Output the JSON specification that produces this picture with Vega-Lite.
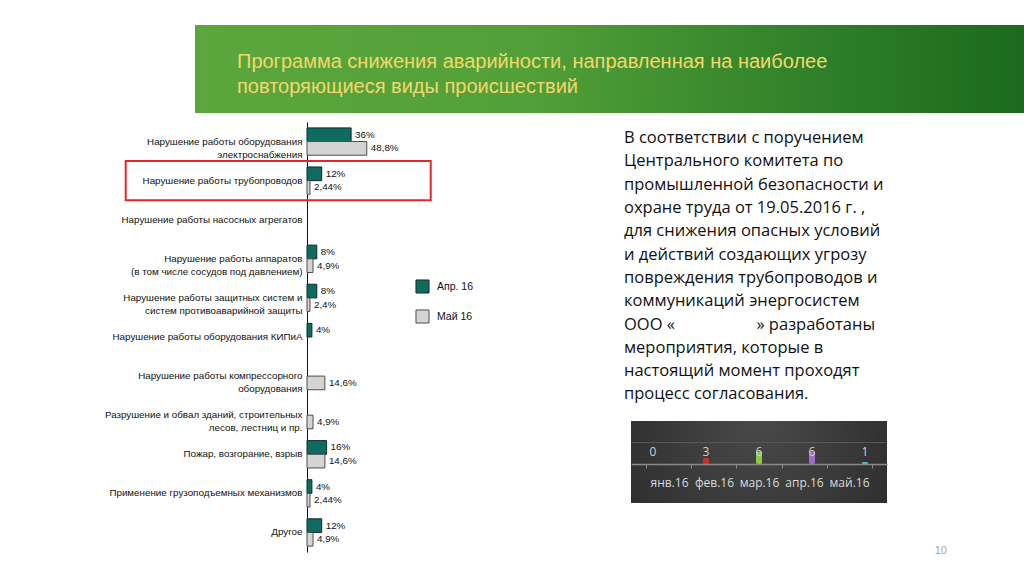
{
  "$schema": "https://vega.github.io/schema/vega-lite/v6.json",
  "background": "white",
  "padding": {"left": 104, "top": 25, "right": 0, "bottom": 0},
  "config": {"view": {"stroke": null}, "font": "Liberation Sans", "title": {"fontWeight": "normal"}},
  "title": {"text": "10", "orient": "bottom", "anchor": "end", "fontSize": 11, "color": "#a6a6a6", "font": "Liberation Sans", "fontWeight": "normal", "dx": -77, "offset": -7},
  "spacing": 9,
  "resolve": {"scale": {"color": "independent", "stroke": "independent"}, "legend": {"color": "independent", "stroke": "independent"}},
  "vconcat": [
    {
      "width": 829,
      "height": 88,
      "title": {
        "text": ["Программа снижения аварийности, направленная на наиболее", "повторяющиеся виды происшествий"],
        "orient": "top", "anchor": "start", "frame": "group", "baseline": "top",
        "offset": -72, "dx": 42, "fontSize": 20, "lineHeight": 25,
        "color": "#f4d76c", "font": "Liberation Sans", "fontWeight": "normal"
      },
      "data": {"values": [{"band": "banner"}]},
      "mark": {
        "type": "rect",
        "color": {
          "gradient": "linear", "x1": 0, "y1": 0, "x2": 1, "y2": 0,
          "stops": [
            {"offset": 0, "color": "#5ba73d"},
            {"offset": 0.4, "color": "#52a039"},
            {"offset": 0.75, "color": "#2f8029"},
            {"offset": 1, "color": "#1b6a1e"}
          ]
        }
      },
      "encoding": {}
    },
    {
      "spacing": 150,
      "resolve": {"scale": {"color": "independent", "stroke": "independent"}, "legend": {"color": "independent", "stroke": "independent"}},
      "hconcat": [
        {
          "width": 234.5,
          "height": 430,
          "data": {
            "values": [
              {"cat": "Нарушение работы оборудования|электроснабжения", "series": "Апр. 16", "value": 36, "label": "36%"},
              {"cat": "Нарушение работы оборудования|электроснабжения", "series": "Май 16", "value": 48.8, "label": "48,8%"},
              {"cat": "Нарушение работы трубопроводов", "series": "Апр. 16", "value": 12, "label": "12%"},
              {"cat": "Нарушение работы трубопроводов", "series": "Май 16", "value": 2.44, "label": "2,44%"},
              {"cat": "Нарушение работы аппаратов|(в том числе сосудов под давлением)", "series": "Апр. 16", "value": 8, "label": "8%"},
              {"cat": "Нарушение работы аппаратов|(в том числе сосудов под давлением)", "series": "Май 16", "value": 4.9, "label": "4,9%"},
              {"cat": "Нарушение работы защитных систем и|систем противоаварийной защиты", "series": "Апр. 16", "value": 8, "label": "8%"},
              {"cat": "Нарушение работы защитных систем и|систем противоаварийной защиты", "series": "Май 16", "value": 2.4, "label": "2,4%"},
              {"cat": "Нарушение работы оборудования КИПиА", "series": "Апр. 16", "value": 4, "label": "4%"},
              {"cat": "Нарушение работы компрессорного|оборудования", "series": "Май 16", "value": 14.6, "label": "14,6%"},
              {"cat": "Разрушение и обвал зданий, строительных|лесов, лестниц и пр.", "series": "Май 16", "value": 4.9, "label": "4,9%"},
              {"cat": "Пожар, возгорание, взрыв", "series": "Апр. 16", "value": 16, "label": "16%"},
              {"cat": "Пожар, возгорание, взрыв", "series": "Май 16", "value": 14.6, "label": "14,6%"},
              {"cat": "Применение грузоподъемных механизмов", "series": "Апр. 16", "value": 4, "label": "4%"},
              {"cat": "Применение грузоподъемных механизмов", "series": "Май 16", "value": 2.44, "label": "2,44%"},
              {"cat": "Другое", "series": "Апр. 16", "value": 12, "label": "12%"},
              {"cat": "Другое", "series": "Май 16", "value": 4.9, "label": "4,9%"}
            ]
          },
          "encoding": {
            "y": {
              "field": "cat", "type": "nominal",
              "scale": {
                "domain": [
                  "Нарушение работы оборудования|электроснабжения",
                  "Нарушение работы трубопроводов",
                  "Нарушение работы насосных агрегатов",
                  "Нарушение работы аппаратов|(в том числе сосудов под давлением)",
                  "Нарушение работы защитных систем и|систем противоаварийной защиты",
                  "Нарушение работы оборудования КИПиА",
                  "Нарушение работы компрессорного|оборудования",
                  "Разрушение и обвал зданий, строительных|лесов, лестниц и пр.",
                  "Пожар, возгорание, взрыв",
                  "Применение грузоподъемных механизмов",
                  "Другое"
                ],
                "paddingInner": 0, "paddingOuter": 0
              },
              "axis": {
                "title": null, "ticks": false, "grid": false, "offset": -112,
                "domainColor": "#111", "domainWidth": 1,
                "labelExpr": "split(datum.label, '|')",
                "labelFont": "Liberation Sans", "labelFontSize": 9.8, "labelColor": "#111",
                "labelLineHeight": 13, "labelPadding": 5, "labelLimit": 0
              }
            }
          },
          "layer": [
            {
              "mark": {"type": "bar", "strokeWidth": 1},
              "encoding": {
                "x": {"field": "value", "type": "quantitative", "scale": {"domain": [-91.43, 100], "nice": false, "zero": true}, "axis": null},
                "yOffset": {"field": "series", "type": "nominal", "scale": {"domain": ["Апр. 16", "Май 16"], "paddingInner": 0, "paddingOuter": 0.43}},
                "color": {
                  "field": "series", "type": "nominal",
                  "scale": {"domain": ["Апр. 16", "Май 16"], "range": ["#0f6b60", "#d4d4d4"]},
                  "legend": {
                    "title": null, "orient": "none", "legendX": 220, "legendY": 157,
                    "symbolType": "square", "symbolSize": 170,
                    "symbolStrokeColor": "#333", "symbolStrokeWidth": 1, "symbolOpacity": 1,
                    "labelFont": "Liberation Sans", "labelFontSize": 10.5, "labelColor": "#111",
                    "rowPadding": 11, "labelOffset": 7
                  }
                },
                "stroke": {
                  "field": "series", "type": "nominal",
                  "scale": {"domain": ["Апр. 16", "Май 16"], "range": ["#0c2d29", "#4d4d4d"]},
                  "legend": null
                }
              }
            },
            {
              "mark": {"type": "text", "align": "left", "baseline": "middle", "dx": 4, "fontSize": 9.8, "font": "Liberation Sans", "color": "#111"},
              "encoding": {
                "x": {"field": "value", "type": "quantitative", "scale": {"domain": [-91.43, 100], "nice": false}, "axis": null},
                "yOffset": {"field": "series", "type": "nominal", "scale": {"domain": ["Апр. 16", "Май 16"], "paddingInner": 0, "paddingOuter": 0.43}},
                "text": {"field": "label"}
              }
            },
            {
              "data": {"values": [{"cat": "Нарушение работы трубопроводов"}]},
              "mark": {"type": "rect", "fillOpacity": 0, "stroke": "#e4262b", "strokeWidth": 2},
              "encoding": {
                "x": {"datum": -148, "type": "quantitative", "scale": {"domain": [-91.43, 100], "nice": false}, "axis": null},
                "x2": {"datum": 101}
              }
            }
          ]
        },
        {
          "spacing": 7,
          "vconcat": [
            {"width": 256, "height": 1, "data": {"values": []}, "mark": "point"},
            {
              "width": 256,
              "height": 82,
              "title": {
                "text": [
                  "В соответствии с поручением",
                  "Центрального комитета по",
                  "промышленной безопасности и",
                  "охране труда от 19.05.2016 г. ,",
                  "для снижения опасных условий",
                  "и действий создающих угрозу",
                  "повреждения трубопроводов и",
                  "коммуникаций энергосистем",
                  "ООО «\u00a0\u00a0\u00a0\u00a0\u00a0\u00a0\u00a0\u00a0\u00a0\u00a0\u00a0\u00a0\u00a0\u00a0\u00a0\u00a0\u00a0\u00a0\u00a0» разработаны",
                  "мероприятия, которые в",
                  "настоящий момент проходят",
                  "процесс согласования."
                ],
                "orient": "top", "anchor": "start", "frame": "group",
                "offset": 18, "dx": -7, "fontSize": 16.5, "lineHeight": 23.3,
                "font": "Open Sans", "fontWeight": "normal", "color": "#111"
              },
              "data": {
                "values": [
                  {"month": "янв.16", "value": 0},
                  {"month": "фев.16", "value": 3},
                  {"month": "мар.16", "value": 6},
                  {"month": "апр.16", "value": 6},
                  {"month": "май.16", "value": 1}
                ]
              },
              "layer": [
                {
                  "data": {"values": [{"panel": "background"}]},
                  "mark": {
                    "type": "rect",
                    "color": {
                      "gradient": "radial", "x1": 0.5, "y1": 0.3, "r1": 0, "x2": 0.5, "y2": 0.5, "r2": 0.75,
                      "stops": [{"offset": 0, "color": "#4a4a4a"}, {"offset": 1, "color": "#252525"}]
                    }
                  },
                  "encoding": {}
                },
                {
                  "data": {"values": [{"grid": 10}]},
                  "mark": {"type": "rule", "color": "#5a5a5a", "strokeWidth": 1},
                  "encoding": {"y": {"field": "grid", "type": "quantitative", "scale": {"domain": [-18, 20]}, "axis": null}}
                },
                {
                  "mark": {"type": "rule", "opacity": 0},
                  "encoding": {
                    "x": {
                      "field": "month", "type": "ordinal", "sort": null,
                      "scale": {"type": "band", "paddingInner": 0, "paddingOuter": 0.344},
                      "axis": {
                        "orient": "bottom", "offset": -39, "title": null, "labelAngle": 0, "zindex": 1,
                        "domainColor": "#8a8a8a", "domainWidth": 1.5,
                        "tickColor": "#8a8a8a", "tickSize": 4, "tickBand": "extent",
                        "labelColor": "#d9d9d9", "labelFontSize": 12, "labelFont": "Open Sans", "labelPadding": 9
                      }
                    }
                  }
                },
                {
                  "mark": {"type": "bar", "width": 6, "cornerRadius": 2},
                  "encoding": {
                    "x": {"field": "month", "type": "ordinal", "sort": null, "scale": {"type": "point", "padding": 0.415}, "axis": null},
                    "y": {"field": "value", "type": "quantitative", "scale": {"domain": [-18, 20]}, "axis": null},
                    "color": {
                      "field": "month", "type": "nominal", "sort": null,
                      "scale": {"domain": ["янв.16", "фев.16", "мар.16", "апр.16", "май.16"], "range": ["#4f81bd", "#c9302c", "#92c83e", "#9b6fc7", "#4fb3c9"]},
                      "legend": null
                    }
                  }
                },
                {
                  "mark": {"type": "text", "fontSize": 12, "font": "Open Sans", "color": "#d0d0d0", "baseline": "middle"},
                  "encoding": {
                    "x": {"field": "month", "type": "ordinal", "sort": null, "scale": {"type": "point", "padding": 0.415}, "axis": null},
                    "y": {"datum": 5.6, "type": "quantitative", "scale": {"domain": [-18, 20]}, "axis": null},
                    "text": {"field": "value"}
                  }
                }
              ],
              "resolve": {"scale": {"x": "independent"}}
            }
          ]
        }
      ]
    }
  ]
}
